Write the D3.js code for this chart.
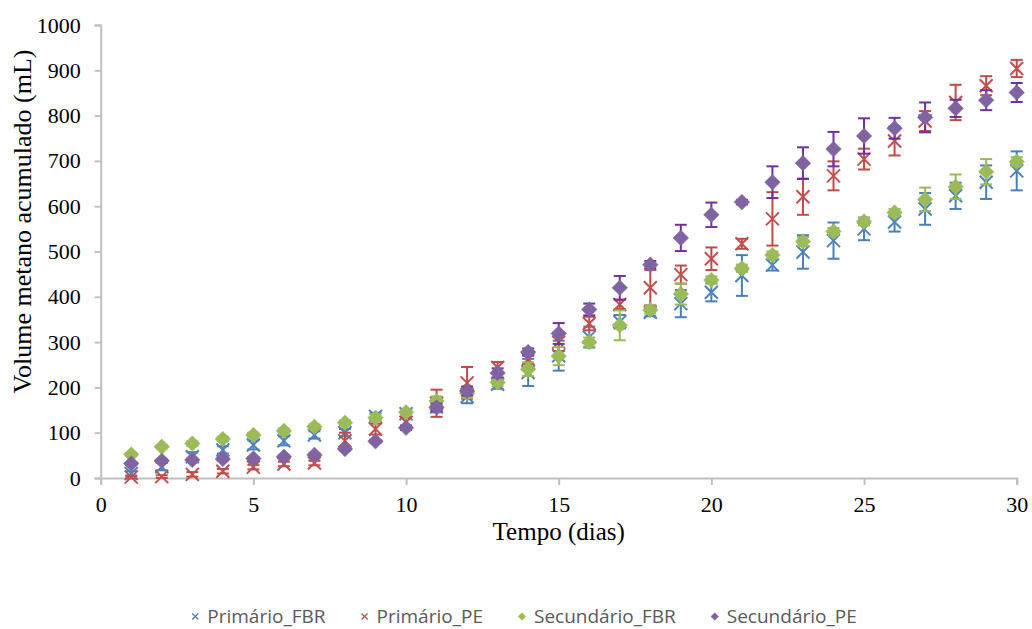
<!DOCTYPE html>
<html>
<head>
<meta charset="utf-8">
<script src="https://cdn.jsdelivr.net/npm/d3@7"></script>
<style>
  body { margin: 0; background: #fff; }
  svg { display: block; }
</style>
</head>
<body>
<div id="chart"></div>
<script>
// dias de ensaio
var days = [1,2,3,4,5,6,7,8,9,10,11,12,13,14,15,16,17,18,19,20,21,22,23,24,25,26,27,28,29,30];

var primFBR    = [10,25,47,62,73,82,95,100,136,142,157,180,207,233,270,311,345,366,385,410,447,470,499,524,550,565,594,623,653,678];
var primFBRerr = [5,8,10,8,10,10,8,8,8,8,12,15,10,30,33,23,15,9,30,20,45,12,37,40,25,21,35,29,37,43];

var primPE     = [2,3,8,15,24,31,33,82,108,123,165,210,244,262,300,341,383,420,449,484,517,572,621,667,704,744,788,829,866,904];
var primPEerr  = [3,3,5,5,5,5,5,18,12,10,30,35,12,10,20,15,10,39,20,25,11,59,40,32,23,32,22,39,21,19];

var secFBR     = [52,69,76,86,95,104,113,122,133,145,170,187,211,240,269,300,337,371,406,437,463,492,522,544,566,586,615,643,676,698];
var secFBRerr  = [3,3,5,5,5,5,5,5,8,5,10,10,8,15,20,10,33,8,23,8,8,8,10,8,8,8,26,27,28,10];

var secPE      = [32,38,40,42,43,47,51,64,81,111,156,192,232,278,319,372,420,471,530,581,609,653,695,726,755,772,796,816,834,851];
var secPEerr   = [3,3,3,3,3,3,3,3,3,5,8,10,10,8,23,13,26,8,29,27,5,35,35,38,39,23,33,19,22,21];

var names = ["Primário_FBR", "Primário_PE", "Secundário_FBR", "Secundário_PE"];
var xTicks = [0,5,10,15,20,25,30];
var yTicks = [0,100,200,300,400,500,600,700,800,900,1000];

var series = [
  {name: names[0], v: primFBR, e: primFBRerr, shape: "x", color: "#4F81BD", err: "#4A7EBB"},
  {name: names[1], v: primPE,  e: primPEerr,  shape: "x", color: "#C0504D", err: "#BE4B48"},
  {name: names[2], v: secFBR,  e: secFBRerr,  shape: "d", color: "#9BBB59", err: "#98B954"},
  {name: names[3], v: secPE,   e: secPEerr,   shape: "d", color: "#8064A2", err: "#7030A0"}
];

var width = 1032, height = 629;
var svg = d3.select("#chart").append("svg")
  .attr("width", width).attr("height", height);

var x = d3.scaleLinear().domain([0, 30]).range([100.7, 1016.7]);
var y = d3.scaleLinear().domain([0, 1000]).range([478, 25]);

var axisColor = "#BFBFBF";
var serif = "'Liberation Serif', 'Times New Roman', serif";

// eixo y
var gy = svg.append("g")
  .attr("transform", "translate(" + x(0) + ",0)")
  .call(d3.axisLeft(y).tickValues(yTicks).tickSize(6).tickPadding(14).tickFormat(d3.format("d")));
// eixo x
var gx = svg.append("g")
  .attr("transform", "translate(0," + y(0) + ")")
  .call(d3.axisBottom(x).tickValues(xTicks).tickSize(7).tickPadding(11).tickFormat(d3.format("d")));

[gx, gy].forEach(function(g){
  g.select(".domain").attr("stroke", axisColor).attr("stroke-width", 2);
  g.selectAll(".tick line").attr("stroke", axisColor).attr("stroke-width", 2);
  g.selectAll(".tick text")
    .attr("fill", "#000")
    .style("font-family", serif)
    .style("font-size", "22px");
});

svg.append("text")
  .attr("transform", "translate(31," + ((y(0) + y(1000)) / 2 - 30) + ") rotate(-90)")
  .attr("text-anchor", "middle")
  .style("font-family", serif)
  .style("font-size", "26px")
  .text("Volume metano acumulado (mL)");

svg.append("text")
  .attr("x", (x(0) + x(30)) / 2)
  .attr("y", 540)
  .attr("text-anchor", "middle")
  .style("font-family", serif)
  .style("font-size", "25px")
  .text("Tempo (dias)");

function markerPath(shape, r) {
  if (shape == "x")
    return "M" + (-r) + "," + (-r) + "L" + r + "," + r + "M" + (-r) + "," + r + "L" + r + "," + (-r);
  return "M0," + (-r) + "L" + r + ",0L0," + r + "L" + (-r) + ",0Z";
}

series.forEach(function(s){
  var pts = days.map(function(d, i){ return {d: d, v: s.v[i], e: s.e[i]}; });
  var g = svg.append("g");

  var eb = g.selectAll(".eb").data(pts).enter().append("g")
    .attr("stroke", s.err).attr("stroke-width", 2).attr("fill", "none");
  eb.append("line")
    .attr("x1", function(p){ return x(p.d); }).attr("x2", function(p){ return x(p.d); })
    .attr("y1", function(p){ return y(p.v + p.e); }).attr("y2", function(p){ return y(p.v - p.e); });
  eb.append("line")
    .attr("x1", function(p){ return x(p.d) - 6; }).attr("x2", function(p){ return x(p.d) + 6; })
    .attr("y1", function(p){ return y(p.v + p.e); }).attr("y2", function(p){ return y(p.v + p.e); });
  eb.append("line")
    .attr("x1", function(p){ return x(p.d) - 6; }).attr("x2", function(p){ return x(p.d) + 6; })
    .attr("y1", function(p){ return y(p.v - p.e); }).attr("y2", function(p){ return y(p.v - p.e); });

  g.selectAll(".m").data(pts).enter().append("path")
    .attr("transform", function(p){ return "translate(" + x(p.d) + "," + y(p.v) + ")"; })
    .attr("d", markerPath(s.shape, s.shape == "x" ? 6.5 : 7.8))
    .attr("fill", s.shape == "x" ? "none" : s.color)
    .attr("stroke", s.color)
    .attr("stroke-width", s.shape == "x" ? 2 : 0.5);
});

// legenda
var legend = svg.append("g");
var items = legend.selectAll("g").data(series).enter().append("g");
items.append("path")
  .attr("d", function(s){ return markerPath(s.shape, s.shape == "x" ? 3 : 3.8); })
  .attr("fill", function(s){ return s.shape == "x" ? "none" : s.color; })
  .attr("stroke", function(s){ return s.color; })
  .attr("stroke-width", function(s){ return s.shape == "x" ? 1.3 : 0.5; });
items.append("text")
  .attr("x", 12)
  .attr("y", 6)
  .attr("fill", "#595959")
  .style("font-family", "'Open Sans', 'Noto Sans', sans-serif")
  .style("font-size", "19px")
  .text(function(s){ return s.name; });

var cur = 0;
items.each(function(){
  var w = d3.select(this).select("text").node().getComputedTextLength();
  d3.select(this).attr("transform", "translate(" + cur + ",616.5)");
  cur += 12 + w + 39;
});
var total = cur - 39;
legend.attr("transform", "translate(" + (526 - total / 2) + ",0)");
</script>
</body>
</html>
